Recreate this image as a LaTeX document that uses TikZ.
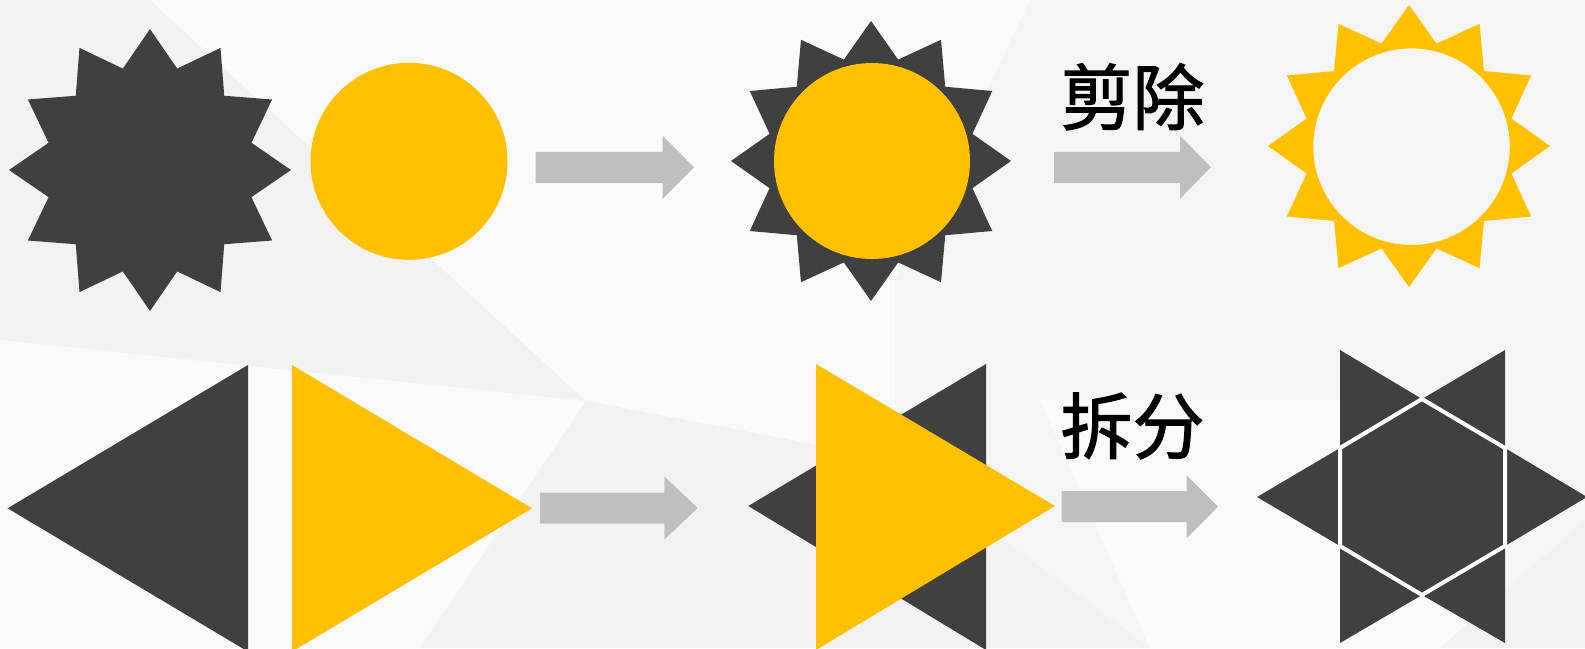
\documentclass[tikz,border=0pt]{standalone}
\usepackage{fontspec}
\usetikzlibrary{calc}
\newfontfamily\cjk{Noto Sans CJK SC}[FakeBold=1.6]
\definecolor{darkfill}{HTML}{404040}
\definecolor{goldfill}{HTML}{FFC000}
\definecolor{arrowgray}{HTML}{BFBFBF}
\definecolor{bgbase}{HTML}{F5F5F5}
\definecolor{bglight}{HTML}{FAFAFA}
\definecolor{bgdark}{HTML}{F2F2F2}
\tikzset{
  darkshape/.style={fill=darkfill},
  goldshape/.style={fill=goldfill},
  arrowshape/.style={fill=arrowgray},
  label text/.style={font=\cjk\fontsize{72}{80}\selectfont, text=black, inner sep=0pt},
}
% gray block arrow: left x, head base x, tip x, mid y
\newcommand\blockarrow[4]{%
  \fill[arrowshape] (#1,#4-15.5) -- (#2,#4-15.5) -- (#2,#4-31.5) -- (#3,#4)
    -- (#2,#4+31.5) -- (#2,#4+15.5) -- (#1,#4+15.5) -- cycle;}
\begin{document}
\begin{tikzpicture}[x=1pt,y=-1pt]
% background
\fill[bgbase] (0,0) rectangle (1585,648);
\useasboundingbox (0,0) rectangle (1585,648);
\fill[bgdark] (0,0) -- (150,0) -- (586,401) -- (0,340) -- cycle;
\fill[bglight] (0,340) -- (586,401) -- (420,648) -- (0,648) -- cycle;
\fill[bglight] (150,0) -- (1030,0) -- (895,280) -- (895,460) -- (586,401) -- cycle;
\fill[bgdark] (586,401) -- (895,460) -- (1150,648) -- (420,648) -- cycle;
\fill[bglight] (1040,400) -- (1420,400) -- (1480,648) -- (1150,648) -- cycle;
\fill[bgdark] (1440,648) -- (1585,520) -- (1585,648) -- cycle;

% top row
\fill[darkshape] (150,170) ++(90:141) \foreach \i in {1,...,23}{ -- ($(150,170)+({90+15*\i}:{mod(\i,2)==1?105:141})$) } -- cycle;
\fill[goldshape] (409,161.3) circle (98.5);
\blockarrow{535.7}{662.7}{694}{167.3}
\fill[darkshape] (871,161) ++(90:140) \foreach \i in {1,...,23}{ -- ($(871,161)+({90+15*\i}:{mod(\i,2)==1?105:140})$) } -- cycle;
\fill[goldshape] (872,161) circle (98);
\node[label text] (cut) at (1132.5,96.7) {剪除};
\blockarrow{1054}{1180}{1211}{167.3}
\fill[goldshape, even odd rule] (1409,146) ++(90:141) \foreach \i in {1,...,23}{ -- ($(1409,146)+({90+15*\i}:{mod(\i,2)==1?106:141})$) } -- cycle
  (1411.5,146.7) circle (98.3);

% bottom row
\fill[darkshape] (7.6,508.3) -- (248,365) -- (248,651.6) -- cycle;
\fill[goldshape] (292,365) -- (532,508.3) -- (292,651.6) -- cycle;
\blockarrow{540}{664.3}{697.7}{508}
\fill[darkshape] (748.3,506) -- (986,364) -- (986,650) -- cycle;
\fill[goldshape] (816,364) -- (1055,506) -- (816,650) -- cycle;
\node[label text] (split) at (1132.5,426) {拆分};
\blockarrow{1061.7}{1186.7}{1218}{506.7}
% hexagram split into hexagon and six triangles
\fill[darkshape] (1257,497) -- (1340,448) -- (1340,350) -- (1422,399) -- (1505,350) -- (1505,448)
  -- (1587,497) -- (1505,546) -- (1505,643) -- (1422,595) -- (1340,643) -- (1340,546) -- cycle;
\draw[white, line width=4pt, line join=miter] (1340,448) -- (1422,399) -- (1505,448) -- (1505,546) -- (1422,595) -- (1340,546) -- cycle;
\end{tikzpicture}
\end{document}
